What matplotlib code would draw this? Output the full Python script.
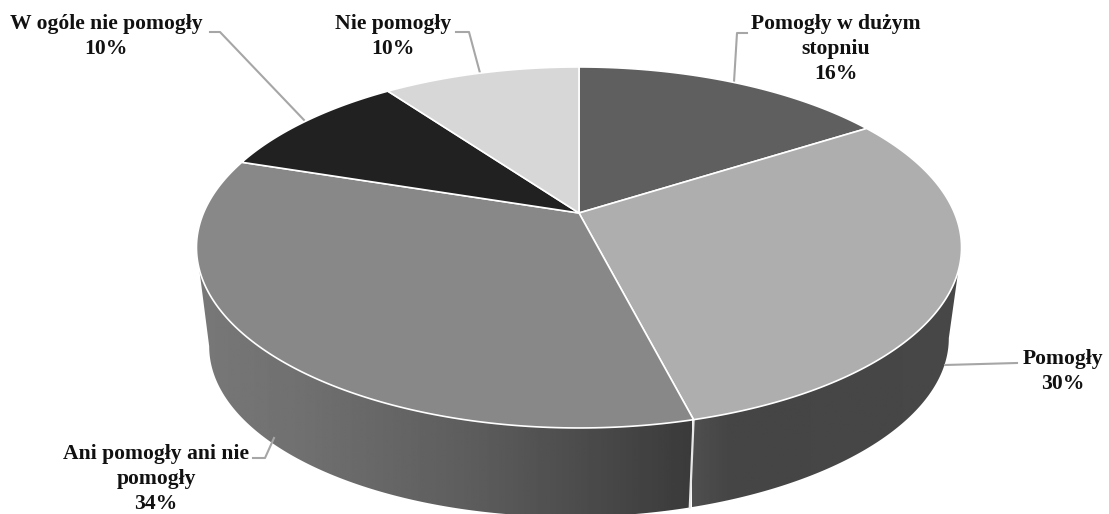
import numpy as np
import matplotlib
matplotlib.use('Agg')
import matplotlib.pyplot as plt
from matplotlib.patches import Polygon

labels = ['Pomogły w dużym\nstopniu', 'Pomogły', 'Ani pomogły ani nie\npomogły', 'W ogóle nie pomogły', 'Nie pomogły']
values = [16, 30, 34, 10, 10]
colors = ['#5f5f5f', '#aeaeae', '#888888', '#212121', '#d7d7d7']

# label centre x and top y of the text block, leader line, in pixels
label_pos = [(836, 14), (1063, 349), (156, 444), (106, 14), (393, 14)]
leaders = [
    [(747, 33), (737, 33), (734, 82)],
    [(1017, 363), (945, 365)],
    [(253, 458), (265, 458), (274, 438)],
    [(210, 32), (220, 32), (304, 120)],
    [(456, 32), (469, 32), (480, 73)],
]

W, H = 1109, 514
CX, CY = 579, 213
A, B, K = 375.5, 173.9, 0.191
# lower rim of the pie, slightly tilted
A2, B2, CY2, TILT = 363.0, 168.0, 309.0, 0.011


def top_rim(theta):
    u, v = np.sin(theta), np.cos(theta)
    w = 1 + K * v
    return CX + A * u / w, CY - B * v / w


def low_rim(theta):
    u, v = np.sin(theta), np.cos(theta)
    w = 1 + K * v
    x = A2 * u / w
    return CX + x, CY2 - B2 * v / w - TILT * x


def side_poly(t0, t1):
    t = np.linspace(t0, t1, 200)
    x1, y1 = top_rim(t)
    x2, y2 = low_rim(t)
    return np.column_stack([np.r_[x1, x2[::-1]], np.r_[y1, y2[::-1]]])


fig = plt.figure(figsize=(W / 100, H / 100), dpi=100)
ax = fig.add_axes([0, 0, 1, 1])
ax.set_xlim(0, W)
ax.set_ylim(H, 0)
ax.axis('off')

edges = np.cumsum([0] + values) / sum(values) * 2 * np.pi
start_side = np.radians(101)
end_side = np.radians(259)

# side walls, shaded left to right
grad_left = np.interp(np.linspace(190, 692, 256), [196, 300, 480, 692], [0.47, 0.44, 0.36, 0.23])
grad_right = np.interp(np.linspace(692, 965, 256), [692, 730, 965], [0.31, 0.27, 0.28])

im = ax.imshow(np.tile(grad_left, (2, 1)), cmap='gray', vmin=0, vmax=1, extent=[190, 692, H, 0], aspect='auto', zorder=1)
im.set_clip_path(Polygon(side_poly(edges[2], end_side), transform=ax.transData))
im = ax.imshow(np.tile(grad_right, (2, 1)), cmap='gray', vmin=0, vmax=1, extent=[692, 965, H, 0], aspect='auto', zorder=1)
im.set_clip_path(Polygon(side_poly(start_side, edges[2]), transform=ax.transData))
ax.set_xlim(0, W)
ax.set_ylim(H, 0)

x0, y0 = top_rim(edges[2])
x1, y1 = low_rim(edges[2])
ax.plot([x0, x1], [y0, y1], color='#e8e8e8', lw=1.6, zorder=2)

# top face
for i, val in enumerate(values):
    t = np.linspace(edges[i], edges[i + 1], 150)
    xs, ys = top_rim(t)
    pts = np.column_stack([np.r_[CX, xs], np.r_[CY, ys]])
    ax.add_patch(Polygon(pts, closed=True, facecolor=colors[i], edgecolor='#ffffff', lw=1.2, zorder=3))

for pts in leaders:
    ax.plot([p[0] for p in pts], [p[1] for p in pts], color='#a6a6a6', lw=1.5, zorder=2)

for i, lab in enumerate(labels):
    txt = lab + '\n' + str(values[i]) + '%'
    ax.text(label_pos[i][0], label_pos[i][1], txt, ha='center', va='top', family='Liberation Serif',
            fontweight='bold', fontsize=15.6, linespacing=1.32, color='#111111', zorder=5)

fig.savefig('out.png', dpi=100)
